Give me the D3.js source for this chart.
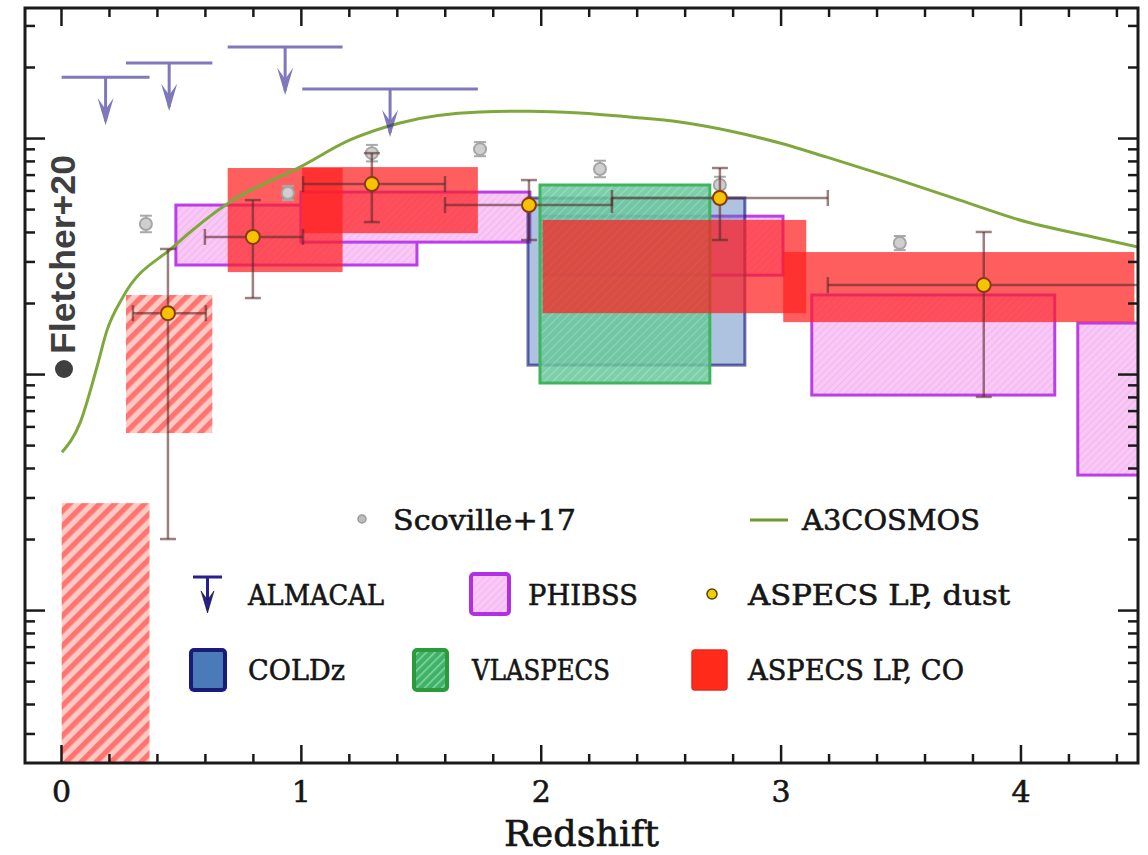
<!DOCTYPE html>
<html>
<head>
<meta charset="utf-8">
<script src="https://d3js.org/d3.v7.min.js"></script>
<style>
  body { margin: 0; background: #fff; }
  svg { display: block; }
</style>
</head>
<body>
<div id="chart"></div>
<script>
// values: redshift z and log10(rho_H2)

// A3COSMOS curve
const a3cosmosZ = [0.004, 0.079, 0.150, 0.192, 0.258, 0.467, 0.717, 0.996, 1.205, 1.413, 1.747, 1.955,
  2.163, 2.372, 2.58, 2.789, 2.997, 3.193, 3.468, 3.747, 4.027, 4.302, 4.49];
const a3cosmosLog = [6.669, 6.792, 7.030, 7.186, 7.326, 7.538, 7.737, 7.877, 7.992, 8.064, 8.110, 8.114,
  8.106, 8.089, 8.068, 8.030, 7.979, 7.919, 7.831, 7.737, 7.644, 7.581, 7.538];

// Scoville+17 points
const scovilleZ = [0.354, 0.946, 1.296, 1.747, 2.247, 2.747, 3.497];
const scovilleLog = [7.636, 7.767, 7.936, 7.953, 7.869, 7.801, 7.555];
const scovilleErr = [0.035, 0.03, 0.035, 0.03, 0.035, 0.035, 0.03];

// ALMACAL upper limits
const almacalZLo = [0.003, 0.271, 0.695, 1.006];
const almacalZHi = [0.369, 0.631, 1.174, 1.738];
const almacalLog = [8.258, 8.318, 8.386, 8.208];

// PHIBSS boxes
const phibssZLo = [0.479, 1.0, 2.0, 3.13, 4.239];
const phibssZHi = [1.484, 1.955, 3.01, 4.143, 4.6];
const phibssLogLo = [7.462, 7.559, 7.419, 6.911, 6.572];
const phibssLogHi = [7.716, 7.771, 7.669, 7.335, 7.216];

// COLDz box
const coldzZ = [1.947, 2.851];
const coldzLog = [7.038, 7.746];

// VLASPECS box
const vlaZ = [1.997, 2.705];
const vlaLog = [6.962, 7.801];

// ASPECS LP, CO boxes (first two hatched)
const coZLo = [0.003, 0.271, 0.695, 1.006, 2.008, 3.011];
const coZHi = [0.369, 0.631, 1.174, 1.738, 3.107, 4.475];
const coLogLo = [5.0, 6.750, 7.432, 7.597, 7.258, 7.220];
const coLogHi = [6.453, 7.335, 7.873, 7.877, 7.653, 7.517];
const coHatched = [true, true, false, false, false, false];

// ASPECS LP, dust points
const dustZ = [0.446, 0.800, 1.296, 1.951, 2.747, 3.847];
const dustZLo = [0.300, 0.600, 1.009, 1.601, 2.297, 3.197];
const dustZHi = [0.604, 1.009, 1.601, 2.297, 3.197, 4.6];
const dustLog = [7.258, 7.581, 7.805, 7.716, 7.746, 7.377];
const dustLogLo = [6.301, 7.322, 7.644, 7.568, 7.568, 6.903];
const dustLogHi = [7.530, 7.737, 7.936, 7.822, 7.873, 7.602];

const xMajor = [0, 1, 2, 3, 4];

const width = 1148;
const height = 855;
const plot = { left: 25, right: 1138, top: 8, bottom: 763 };
const serif = 'DejaVu Serif, serif';

const svg = d3.select('#chart').append('svg')
  .attr('width', width)
  .attr('height', height);

svg.append('rect').attr('width', width).attr('height', height).attr('fill', '#fff');

const x = d3.scaleLinear().domain([-0.15, 4.49]).range([plot.left, plot.right]);
const y = d3.scaleLog().domain([10 ** 5.352, 10 ** 8.551]).range([plot.bottom, plot.top]);
const yl = (v) => y(10 ** v);

// patterns
const defs = svg.append('defs');
const hatch = (id, base, line, size, lineW) => {
  const p = defs.append('pattern')
    .attr('id', id)
    .attr('patternUnits', 'userSpaceOnUse')
    .attr('width', size)
    .attr('height', size)
    .attr('patternTransform', 'rotate(45)');
  p.append('rect').attr('width', size).attr('height', size).attr('fill', base);
  p.append('rect').attr('width', lineW).attr('height', size).attr('fill', line);
};
hatch('coHatch', '#ffcac3', '#ff7370', 10.6, 5.3);
hatch('phibssHatch', '#f9c9f6', '#f4b6f1', 5, 1.2);
hatch('vlaHatch', '#66c69a', '#8cd6b4', 6, 1.2);
hatch('vlaLegend', '#3eb266', '#8ad6a8', 6, 1.5);

defs.append('clipPath').attr('id', 'plotClip')
  .append('rect')
  .attr('x', plot.left)
  .attr('y', plot.top)
  .attr('width', plot.right - plot.left)
  .attr('height', plot.bottom - plot.top);

const g = svg.append('g').attr('clip-path', 'url(#plotClip)');

const box = (sel, zlo, zhi, lo, hi) => sel.append('rect')
  .attr('x', x(zlo))
  .attr('y', yl(hi))
  .attr('width', x(zhi) - x(zlo))
  .attr('height', yl(lo) - yl(hi));

// PHIBSS
phibssZLo.forEach((z, i) => {
  box(g, z, phibssZHi[i], phibssLogLo[i], phibssLogHi[i])
    .attr('fill', 'url(#phibssHatch)')
    .attr('stroke', '#bb3fe9')
    .attr('stroke-width', 3);
});

// COLDz
box(g, coldzZ[0], coldzZ[1], coldzLog[0], coldzLog[1])
  .attr('fill', '#4a7ab8')
  .attr('fill-opacity', 0.45)
  .attr('stroke', '#1a1a80')
  .attr('stroke-opacity', 0.65)
  .attr('stroke-width', 3);

// VLASPECS
box(g, vlaZ[0], vlaZ[1], vlaLog[0], vlaLog[1])
  .attr('fill', 'url(#vlaHatch)')
  .attr('fill-opacity', 0.85)
  .attr('stroke', '#3fb45c')
  .attr('stroke-width', 3);

// ASPECS LP, CO
coZLo.forEach((z, i) => {
  const r = box(g, z, coZHi[i], coLogLo[i], coLogHi[i]);
  if (coHatched[i]) {
    r.attr('fill', 'url(#coHatch)');
  } else {
    r.attr('fill', '#ff2020').attr('fill-opacity', 0.72);
  }
});

// A3COSMOS
const line = d3.line()
  .x((d) => x(d[0]))
  .y((d) => yl(d[1]))
  .curve(d3.curveMonotoneX);
g.append('path')
  .datum(a3cosmosZ.map((z, i) => [z, a3cosmosLog[i]]))
  .attr('fill', 'none')
  .attr('stroke', '#7fa83c')
  .attr('stroke-width', 3)
  .attr('d', line);

// error bar helper
const errBar = (sel, cx, cy, x0, x1, y0, y1, color, cap, w) => {
  const eg = sel.append('g').attr('stroke', color).attr('stroke-width', w).attr('fill', 'none');
  if (x0 !== null) {
    eg.append('line').attr('x1', x0).attr('x2', x1).attr('y1', cy).attr('y2', cy);
    eg.append('line').attr('x1', x0).attr('x2', x0).attr('y1', cy - cap).attr('y2', cy + cap);
    eg.append('line').attr('x1', x1).attr('x2', x1).attr('y1', cy - cap).attr('y2', cy + cap);
  }
  eg.append('line').attr('x1', cx).attr('x2', cx).attr('y1', y0).attr('y2', y1);
  eg.append('line').attr('x1', cx - cap).attr('x2', cx + cap).attr('y1', y0).attr('y2', y0);
  eg.append('line').attr('x1', cx - cap).attr('x2', cx + cap).attr('y1', y1).attr('y2', y1);
  return eg;
};

// Scoville+17
scovilleZ.forEach((z, i) => {
  const cx = x(z);
  const cy = yl(scovilleLog[i]);
  errBar(g, cx, cy, null, null, yl(scovilleLog[i] - scovilleErr[i]), yl(scovilleLog[i] + scovilleErr[i]),
    '#a9a9a9', 6, 2);
  g.append('circle').attr('cx', cx).attr('cy', cy).attr('r', 6)
    .attr('fill', '#cfcfcf').attr('stroke', '#a6a6a6').attr('stroke-width', 2);
});

// ASPECS LP, dust
dustZ.forEach((z, i) => {
  errBar(g, x(z), yl(dustLog[i]), x(dustZLo[i]), x(dustZHi[i]), yl(dustLogLo[i]), yl(dustLogHi[i]),
    '#5a2a2a', 8, 2.5).attr('stroke-opacity', 0.6);
});
dustZ.forEach((z, i) => {
  g.append('circle').attr('cx', x(z)).attr('cy', yl(dustLog[i])).attr('r', 7)
    .attr('fill', '#f7c300').attr('stroke', '#8a3a12').attr('stroke-width', 2);
});

// ALMACAL arrow
const arrow = (sel, cx, top, len, head, color) => {
  const ag = sel.append('g');
  ag.append('line').attr('x1', cx).attr('x2', cx).attr('y1', top).attr('y2', top + len - 4)
    .attr('stroke', color).attr('stroke-width', 3);
  ag.append('path')
    .attr('d', `M${cx - head / 2},${top + len - head * 1.7}L${cx},${top + len}L${cx + head / 2},${top + len - head * 1.7}L${cx},${top + len - head}Z`)
    .attr('fill', color);
  return ag;
};
almacalZLo.forEach((z, i) => {
  const y0 = yl(almacalLog[i]);
  const ag = g.append('g').attr('opacity', 0.6);
  ag.append('line').attr('x1', x(z)).attr('x2', x(almacalZHi[i])).attr('y1', y0).attr('y2', y0)
    .attr('stroke', '#2b1f8f').attr('stroke-width', 3);
  arrow(ag, x((z + almacalZHi[i]) / 2), y0, 48, 16, '#2b1f8f');
});

// axes: inside ticks on all four sides
const xMinor = d3.range(1, 23).map((k) => k * 0.2).filter((v) => Math.abs(v - Math.round(v)) > 1e-6);
const yMajor = [1e6, 1e7, 1e8];
const yMinor = [];
[5, 6, 7, 8].forEach((n) => {
  d3.range(2, 10).forEach((k) => {
    const v = k * 10 ** n;
    if (v > y.domain()[0] && v < y.domain()[1]) yMinor.push(v);
  });
});

const tickStyle = (sel) => {
  sel.select('.domain').remove();
  sel.selectAll('line').attr('stroke', '#1a1a1a').attr('stroke-width', 2.5);
};

svg.append('g').attr('transform', `translate(0,${plot.bottom})`)
  .call(d3.axisBottom(x).tickValues(xMinor).tickSize(-9).tickFormat(''))
  .call(tickStyle);
svg.append('g').attr('transform', `translate(0,${plot.bottom})`)
  .call(d3.axisBottom(x).tickValues(xMajor).tickSize(-18).tickPadding(18).tickFormat(d3.format('d')))
  .call(tickStyle)
  .selectAll('text')
  .attr('font-family', serif)
  .attr('font-size', 30)
  .attr('fill', '#151515')
  .attr('stroke', '#151515')
  .attr('stroke-width', 0.6);
svg.append('g').attr('transform', `translate(0,${plot.top})`)
  .call(d3.axisTop(x).tickValues(xMinor).tickSize(-9).tickFormat(''))
  .call(tickStyle);
svg.append('g').attr('transform', `translate(0,${plot.top})`)
  .call(d3.axisTop(x).tickValues(xMajor).tickSize(-18).tickFormat(''))
  .call(tickStyle);
svg.append('g').attr('transform', `translate(${plot.left},0)`)
  .call(d3.axisLeft(y).tickValues(yMinor).tickSize(-10).tickFormat(''))
  .call(tickStyle);
svg.append('g').attr('transform', `translate(${plot.left},0)`)
  .call(d3.axisLeft(y).tickValues(yMajor).tickSize(-20).tickFormat(''))
  .call(tickStyle);
svg.append('g').attr('transform', `translate(${plot.right},0)`)
  .call(d3.axisRight(y).tickValues(yMinor).tickSize(-10).tickFormat(''))
  .call(tickStyle);
svg.append('g').attr('transform', `translate(${plot.right},0)`)
  .call(d3.axisRight(y).tickValues(yMajor).tickSize(-20).tickFormat(''))
  .call(tickStyle);

svg.append('rect')
  .attr('x', plot.left)
  .attr('y', plot.top)
  .attr('width', plot.right - plot.left)
  .attr('height', plot.bottom - plot.top)
  .attr('fill', 'none')
  .attr('stroke', '#1a1a1a')
  .attr('stroke-width', 3);

// x axis title
svg.append('text')
  .attr('x', (plot.left + plot.right) / 2)
  .attr('y', 846)
  .attr('text-anchor', 'middle')
  .attr('font-family', serif)
  .attr('font-size', 35)
  .attr('fill', '#151515')
  .attr('stroke', '#151515')
  .attr('stroke-width', 0.6)
  .attr('textLength', 155)
  .attr('lengthAdjust', 'spacingAndGlyphs')
  .text('Redshift');

// Fletcher+20 label (rotated)
svg.append('circle').attr('cx', 64).attr('cy', 369).attr('r', 9).attr('fill', '#3f3f3f');
svg.append('text')
  .attr('transform', 'translate(75,354) rotate(-90)')
  .attr('font-family', 'Liberation Sans, Arial, sans-serif')
  .attr('font-weight', 'bold')
  .attr('font-size', 35)
  .attr('fill', '#3f3f3f')
  .attr('textLength', 199)
  .attr('lengthAdjust', 'spacingAndGlyphs')
  .text('Fletcher+20');

// legend
const lg = svg.append('g')
  .attr('font-family', serif)
  .attr('font-size', 28)
  .attr('fill', '#151515')
  .attr('stroke', '#151515')
  .attr('stroke-width', 0.6);
const label = (tx, ty, s, len) => lg.append('text')
  .attr('x', tx)
  .attr('y', ty)
  .attr('textLength', len)
  .attr('lengthAdjust', 'spacingAndGlyphs')
  .text(s);

lg.append('circle').attr('cx', 362).attr('cy', 519).attr('r', 4)
  .attr('fill', '#bdbdbd').attr('stroke', '#9a9a9a').attr('stroke-width', 1.5);
label(393, 530, 'Scoville+17', 183);

lg.append('line').attr('x1', 750).attr('x2', 788).attr('y1', 520).attr('y2', 520)
  .attr('stroke', '#6f9a2e').attr('stroke-width', 3);
label(802, 530, 'A3COSMOS', 178);

lg.append('line').attr('x1', 193).attr('x2', 222).attr('y1', 577).attr('y2', 577)
  .attr('stroke', '#2b1f8f').attr('stroke-width', 3);
arrow(lg, 207.5, 577, 36, 13, '#2b1f8f').attr('stroke-width', null);
label(248, 605, 'ALMACAL', 136);

lg.append('rect').attr('x', 471).attr('y', 574).attr('width', 38).attr('height', 40).attr('rx', 3)
  .attr('fill', 'url(#phibssHatch)').attr('stroke', '#b32fe3').attr('stroke-width', 4);
label(528, 605, 'PHIBSS', 110);

lg.append('circle').attr('cx', 712).attr('cy', 594).attr('r', 5)
  .attr('fill', '#f0d000').attr('stroke', '#5a4000').attr('stroke-width', 1.5);
label(748, 605, 'ASPECS LP, dust', 262);

lg.append('rect').attr('x', 191).attr('y', 650).attr('width', 34).attr('height', 40).attr('rx', 3)
  .attr('fill', '#4a7ab8').attr('stroke', '#1a1a7a').attr('stroke-width', 4);
label(248, 680, 'COLDz', 97);

lg.append('rect').attr('x', 414).attr('y', 650).attr('width', 33).attr('height', 40).attr('rx', 3)
  .attr('fill', 'url(#vlaLegend)').attr('stroke', '#2a9a3a').attr('stroke-width', 4);
label(472, 680, 'VLASPECS', 138);

lg.append('rect').attr('x', 692).attr('y', 650).attr('width', 35).attr('height', 40).attr('rx', 3)
  .attr('fill', '#ff2a1a').attr('stroke', '#e52a20').attr('stroke-width', 1.5);
label(748, 680, 'ASPECS LP, CO', 216);
</script>
</body>
</html>
